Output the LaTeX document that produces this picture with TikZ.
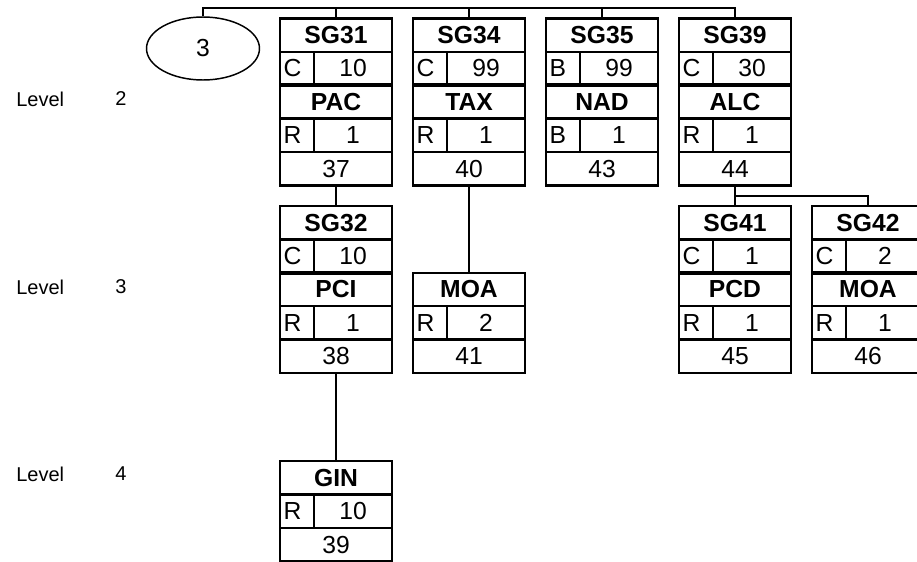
\documentclass[tikz,border=0pt]{standalone}
\usepackage{fontspec}
\setmainfont{Liberation Sans}
\usetikzlibrary{calc,shapes.geometric}
\tikzset{
  rowbox/.style={draw, line width=1.8pt, minimum width=84pt, minimum height=25.05pt,
    inner sep=0pt, outer sep=0pt, font=\fontsize{18.5}{21}\selectfont, anchor=north},
  divline/.style={line width=1.8pt},
  link/.style={line width=1.5pt},
  junction/.style={line width=3.2pt},
  lbl/.style={font=\fontsize{18.5}{21}\selectfont, inner sep=0pt},
  lvl/.style={font=\fontsize{15}{18}\selectfont, inner sep=0pt},
  oval/.style={draw, ellipse, line width=1.1pt, minimum width=84.75pt, minimum height=47.25pt,
    inner sep=0pt, font=\fontsize{18.5}{21}\selectfont},
}
\newcommand{\namerow}[3]{\node[rowbox] (#1) at #2 {\bfseries #3};}
\newcommand{\pairrow}[4]{%
  \node[rowbox] (#1) at #2 {};
  \draw[divline] ([xshift=25.5pt]#1.north west) -- ([xshift=25.5pt]#1.south west);
  \node[lbl, anchor=west] (#1l) at ([xshift=2.5pt]#1.west) {#3};
  \node[lbl] (#1v) at ([xshift=12.75pt]#1.center) {#4};}
\newcommand{\numrow}[3]{\node[rowbox] (#1) at #2 {#3};}
\begin{document}
\begin{tikzpicture}[x=0.75pt,y=-0.75pt]
\useasboundingbox (0,0) rectangle (917,561);

% level labels
\node[lvl, anchor=west] (lv2) at (16,99) {Level};
\node[lvl] (lv2n) at (121,99) {2};
\node[lvl, anchor=west] (lv3) at (16,287) {Level};
\node[lvl] (lv3n) at (121,287) {3};
\node[lvl, anchor=west] (lv4) at (16,474) {Level};
\node[lvl] (lv4n) at (121,474) {4};

% ellipse
\node[oval] (ell) at (203,48.5) {3};

% level 2 boxes
\namerow{sg31}{(336,18.3)}{SG31}
\pairrow{sg31c}{(sg31.south)}{C}{10}
\namerow{pac}{(sg31c.south)}{PAC}
\pairrow{pacr}{(pac.south)}{R}{1}
\numrow{n37}{(pacr.south)}{37}
\draw[junction] (pac.north west) -- (pac.north east);

\namerow{sg34}{(469,18.3)}{SG34}
\pairrow{sg34c}{(sg34.south)}{C}{99}
\namerow{tax}{(sg34c.south)}{TAX}
\pairrow{taxr}{(tax.south)}{R}{1}
\numrow{n40}{(taxr.south)}{40}
\draw[junction] (tax.north west) -- (tax.north east);

\namerow{sg35}{(602,18.3)}{SG35}
\pairrow{sg35c}{(sg35.south)}{B}{99}
\namerow{nad}{(sg35c.south)}{NAD}
\pairrow{nadr}{(nad.south)}{B}{1}
\numrow{n43}{(nadr.south)}{43}
\draw[junction] (nad.north west) -- (nad.north east);

\namerow{sg39}{(735,18.3)}{SG39}
\pairrow{sg39c}{(sg39.south)}{C}{30}
\namerow{alc}{(sg39c.south)}{ALC}
\pairrow{alcr}{(alc.south)}{R}{1}
\numrow{n44}{(alcr.south)}{44}
\draw[junction] (alc.north west) -- (alc.north east);

% level 3 boxes
\namerow{sg32}{(336,206)}{SG32}
\pairrow{sg32c}{(sg32.south)}{C}{10}
\namerow{pci}{(sg32c.south)}{PCI}
\pairrow{pcir}{(pci.south)}{R}{1}
\numrow{n38}{(pcir.south)}{38}
\draw[junction] (pci.north west) -- (pci.north east);

\namerow{moa}{(469,272.8)}{MOA}
\pairrow{moar}{(moa.south)}{R}{2}
\numrow{n41}{(moar.south)}{41}

\namerow{sg41}{(735,206)}{SG41}
\pairrow{sg41c}{(sg41.south)}{C}{1}
\namerow{pcd}{(sg41c.south)}{PCD}
\pairrow{pcdr}{(pcd.south)}{R}{1}
\numrow{n45}{(pcdr.south)}{45}
\draw[junction] (pcd.north west) -- (pcd.north east);

\namerow{sg42}{(868,206)}{SG42}
\pairrow{sg42c}{(sg42.south)}{C}{2}
\namerow{moab}{(sg42c.south)}{MOA}
\pairrow{moabr}{(moab.south)}{R}{1}
\numrow{n46}{(moabr.south)}{46}
\draw[junction] (moab.north west) -- (moab.north east);

% level 4 box
\namerow{gin}{(336,461)}{GIN}
\pairrow{ginr}{(gin.south)}{R}{10}
\numrow{n39}{(ginr.south)}{39}

% connectors
\coordinate (busR) at (sg39.north |- 0,8);
\draw[link] (ell.north) |- (busR) -- (sg39.north);
\draw[link] (sg31.north) -- (sg31.north |- busR);
\draw[link] (sg34.north) -- (sg34.north |- busR);
\draw[link] (sg35.north) -- (sg35.north |- busR);
\draw[link] (n37.south) -- (sg32.north);
\draw[link] (n40.south) -- (moa.north);
\draw[link] (n44.south) -- (sg41.north);
\draw[link] ($(n44.south)!0.5!(sg41.north)$) -| (sg42.north);
\draw[link] (n38.south) -- (gin.north);
\end{tikzpicture}
\end{document}
